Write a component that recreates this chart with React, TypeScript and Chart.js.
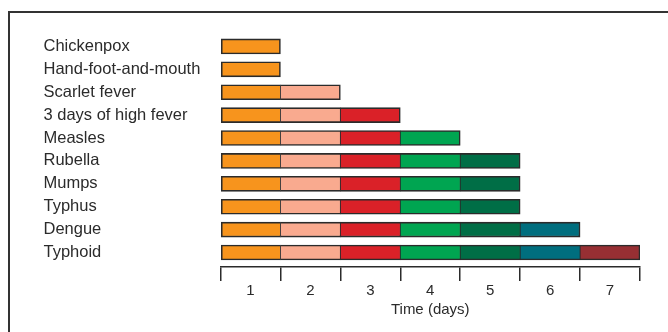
import React, { useEffect, useRef } from "react";
import { Chart, registerables } from "chart.js";

Chart.register(...registerables);

const diseases = [
  "Chickenpox",
  "Hand-foot-and-mouth",
  "Scarlet fever",
  "3 days of high fever",
  "Measles",
  "Rubella",
  "Mumps",
  "Typhus",
  "Dengue",
  "Typhoid",
];
const durationDays = [1, 1, 2, 3, 4, 5, 5, 5, 6, 7];
const dayLabels = ["1", "2", "3", "4", "5", "6", "7"];
const dayColors = ["#F7941D", "#F9AA8F", "#DA2128", "#00A551", "#006E46", "#006E7E", "#972F33"];
const axisTitle = "Time (days)";

const FONT = "'Liberation Sans', Arial, Helvetica, sans-serif";
const INK = "#2b2b2b";

export default function App() {
  const ref = useRef<HTMLCanvasElement>(null);

  useEffect(() => {
    if (!ref.current) return;
    const datasets = dayLabels.map((_, k) => {
      const day = k + 1;
      const data: any[] = [];
      durationDays.forEach((d, i) => {
        if (d >= day) data.push({ x: [day - 1, day], y: i });
      });
      return {
        label: "Day " + day,
        data,
        backgroundColor: dayColors[k],
        borderColor: INK,
        borderSkipped: false as any,
        borderWidth: (ctx: any) => {
          const raw = ctx.raw;
          const last = raw && raw.x && raw.x[1] === durationDays[raw.y];
          return { top: 1.6, bottom: 1.6, left: day === 1 ? 1.6 : 0.75, right: last ? 1.6 : 0.75 };
        },
        barThickness: 15,
        grouped: false,
      };
    });

    const chart = new Chart(ref.current, {
      type: "bar",
      data: { datasets: datasets as any },
      options: {
        animation: false,
        responsive: false,
        indexAxis: "y",
        layout: { padding: { left: 43.5, right: 28, top: 35, bottom: 13 } },
        plugins: { legend: { display: false }, tooltip: { enabled: false } },
        scales: {
          y: {
            type: "linear",
            reverse: true,
            offset: false,
            min: -0.5,
            max: 9.633,
            grid: { display: false },
            border: { display: false },
            afterBuildTicks: (scale: any) => {
              scale.ticks = diseases.map((_, i) => ({ value: i }));
            },
            afterFit: (scale: any) => {
              scale.width = 177;
            },
            ticks: {
              autoSkip: false,
              crossAlign: "far",
              color: INK,
              font: { family: FONT, size: 16.5 },
              callback: (v: any) => diseases[v] ?? "",
            },
          },
          x: {
            type: "linear",
            min: 0,
            max: 7,
            offset: false,
            stacked: false,
            afterBuildTicks: (scale: any) => {
              const t: any[] = [];
              for (let i = 0; i <= dayLabels.length * 2; i++) t.push({ value: i / 2 });
              scale.ticks = t;
            },
            afterFit: (scale: any) => {
              scale.height = 52;
            },
            grid: {
              drawOnChartArea: false,
              drawTicks: true,
              tickLength: 14,
              lineWidth: 1.5,
              color: (ctx: any) =>
                ctx.tick && ctx.tick.value % 1 === 0 ? INK : "rgba(0,0,0,0)",
            },
            border: { display: true, color: INK, width: 1.5 },
            ticks: {
              autoSkip: false,
              maxRotation: 0,
              padding: 1,
              color: INK,
              font: { family: FONT, size: 15 },
              callback: (v: any) => {
                const n = Number(v);
                if (n % 1 === 0) return "";
                return dayLabels[Math.floor(n)] ?? "";
              },
            },
            title: {
              display: true,
              text: axisTitle,
              color: INK,
              font: { family: FONT, size: 15 },
              padding: { top: 0, bottom: 0 },
            },
          },
        },
      },
    });
    return () => chart.destroy();
  }, []);

  return (
    <div
      style={{
        position: "fixed",
        left: 0,
        top: 0,
        width: 668,
        height: 332,
        overflow: "hidden",
        background: "#fff",
      }}
    >
      <div
        style={{
          position: "absolute",
          left: 8,
          top: 11,
          right: -10,
          bottom: -10,
          borderTop: "2px solid #333",
          borderLeft: "2px solid #333",
        }}
      />
      <canvas
        ref={ref}
        width={668}
        height={332}
        style={{ position: "absolute", left: 0, top: 0, width: 668, height: 332 }}
      />
    </div>
  );
}
